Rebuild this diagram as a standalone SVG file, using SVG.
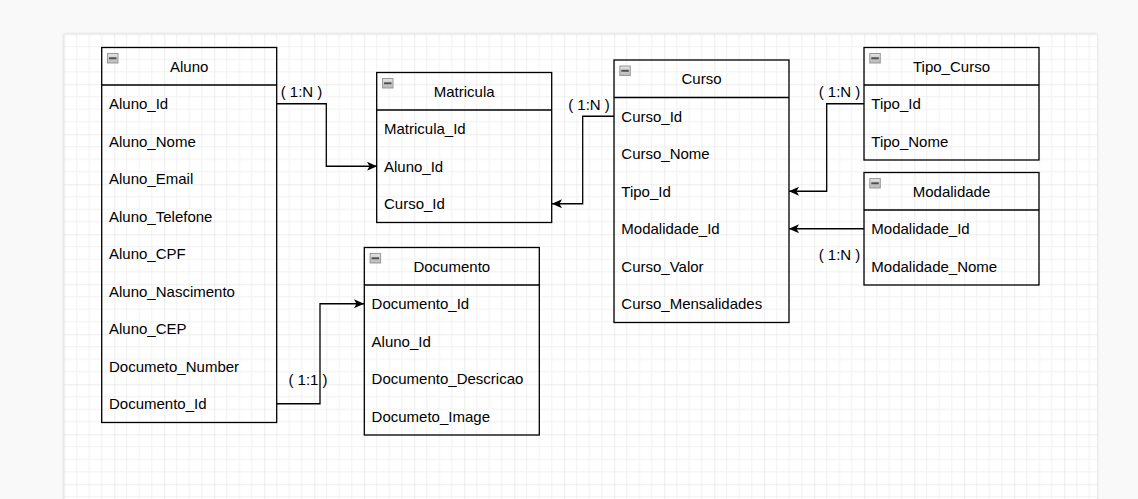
<svg xmlns="http://www.w3.org/2000/svg" width="1138" height="499" viewBox="0 0 1138 499">
  <defs>
    <pattern id="grid" x="64.3" y="34.3" width="50" height="50" patternUnits="userSpaceOnUse">
      <path d="M12.5 0V50M25 0V50M37.5 0V50M0 12.5H50M0 25H50M0 37.5H50" stroke="#f1f1f1" stroke-width="1" fill="none"/>
      <path d="M0 0V50M0 0H50" stroke="#dcdcdc" stroke-width="1" fill="none"/>
    </pattern>
    <linearGradient id="ig" x1="0" y1="0" x2="0" y2="1">
      <stop offset="0" stop-color="#e4e4e4"/>
      <stop offset="1" stop-color="#b8b8b8"/>
    </linearGradient>
    <filter id="shadow" x="-5%" y="-5%" width="110%" height="110%">
      <feGaussianBlur in="SourceAlpha" stdDeviation="1.5"/>
      <feComponentTransfer><feFuncA type="linear" slope="0.18"/></feComponentTransfer>
      <feMerge><feMergeNode/><feMergeNode in="SourceGraphic"/></feMerge>
    </filter>
    <marker id="arrow" viewBox="0 0 10 9" refX="10" refY="4.5" markerWidth="10" markerHeight="9" markerUnits="userSpaceOnUse" orient="auto">
      <path d="M0,0 L10,4.5 L0,9 L2.5,4.5 Z" fill="#000"/>
    </marker>
    <g id="icon">
      <rect x="0.5" y="0.5" width="10.5" height="9.5" fill="url(#ig)" stroke="#9a9a9a" stroke-width="1"/>
      <rect x="2" y="4.3" width="7.5" height="2" fill="#505050"/>
    </g>
  </defs>
  <style>
    .box { fill: none; stroke: #000; stroke-width: 1.3; }
    .sep { stroke: #000; stroke-width: 1.3; }
    .title { font-family: "Liberation Sans", Arial, sans-serif; font-size: 15px; fill: #000; text-anchor: middle; }
    .row { font-family: "Liberation Sans", Arial, sans-serif; font-size: 15px; fill: #000; }
    .lbl { font-family: "Liberation Sans", Arial, sans-serif; font-size: 15px; fill: #000; text-anchor: middle; }
    .edge { fill: none; stroke: #000; stroke-width: 1.3; }
  </style>

  <rect x="0" y="0" width="1138" height="499" fill="#f9f9f9"/>
  <rect x="64" y="34" width="1033" height="480" fill="#ffffff" filter="url(#shadow)"/>
  <rect x="64" y="34" width="1033" height="480" fill="url(#grid)"/>

  <g id="connectors">
    <path class="edge" d="M277,103.75 H326.3 V166.25 H377" marker-end="url(#arrow)"/>
    <path class="edge" d="M614,116.25 H582.7 V203.75 H552" marker-end="url(#arrow)"/>
    <path class="edge" d="M864,103.75 H826.7 V191.25 H789" marker-end="url(#arrow)"/>
    <path class="edge" d="M864,228.75 H789" marker-end="url(#arrow)"/>
    <path class="edge" d="M277,403.75 H320 V303.75 H364" marker-end="url(#arrow)"/>
    <text class="lbl" x="301.5" y="97">( 1:N )</text>
    <text class="lbl" x="589" y="109.5">( 1:N )</text>
    <text class="lbl" x="839.5" y="97">( 1:N )</text>
    <text class="lbl" x="839.5" y="259.5">( 1:N )</text>
    <text class="lbl" x="308" y="385">( 1:1 )</text>
  </g>

  <g id="aluno">
    <rect class="box" x="101.7" y="47.5" width="175" height="375"/>
    <line class="sep" x1="101.7" y1="85" x2="276.7" y2="85"/>
    <use href="#icon" x="107" y="53"/>
    <text class="title" x="189.2" y="71.5">Aluno</text>
    <text class="row" x="109" y="109">Aluno_Id</text>
    <text class="row" x="109" y="146.5">Aluno_Nome</text>
    <text class="row" x="109" y="184">Aluno_Email</text>
    <text class="row" x="109" y="221.5">Aluno_Telefone</text>
    <text class="row" x="109" y="259">Aluno_CPF</text>
    <text class="row" x="109" y="296.5">Aluno_Nascimento</text>
    <text class="row" x="109" y="334">Aluno_CEP</text>
    <text class="row" x="109" y="371.5">Documeto_Number</text>
    <text class="row" x="109" y="409">Documento_Id</text>
  </g>

  <g id="matricula">
    <rect class="box" x="376.7" y="72.5" width="175" height="150"/>
    <line class="sep" x1="376.7" y1="110" x2="551.7" y2="110"/>
    <use href="#icon" x="382" y="78"/>
    <text class="title" x="464.2" y="96.5">Matricula</text>
    <text class="row" x="384" y="134">Matricula_Id</text>
    <text class="row" x="384" y="171.5">Aluno_Id</text>
    <text class="row" x="384" y="209">Curso_Id</text>
  </g>

  <g id="curso">
    <rect class="box" x="614" y="60" width="175" height="262.5"/>
    <line class="sep" x1="614" y1="97.5" x2="789" y2="97.5"/>
    <use href="#icon" x="619.3" y="65.5"/>
    <text class="title" x="701.5" y="84">Curso</text>
    <text class="row" x="621.3" y="121.5">Curso_Id</text>
    <text class="row" x="621.3" y="159">Curso_Nome</text>
    <text class="row" x="621.3" y="196.5">Tipo_Id</text>
    <text class="row" x="621.3" y="234">Modalidade_Id</text>
    <text class="row" x="621.3" y="271.5">Curso_Valor</text>
    <text class="row" x="621.3" y="309">Curso_Mensalidades</text>
  </g>

  <g id="tipo_curso">
    <rect class="box" x="864" y="47.5" width="175" height="112.5"/>
    <line class="sep" x1="864" y1="85" x2="1039" y2="85"/>
    <use href="#icon" x="869.3" y="53"/>
    <text class="title" x="951.5" y="71.5">Tipo_Curso</text>
    <text class="row" x="871.3" y="109">Tipo_Id</text>
    <text class="row" x="871.3" y="146.5">Tipo_Nome</text>
  </g>

  <g id="modalidade">
    <rect class="box" x="864" y="172.5" width="175" height="112.5"/>
    <line class="sep" x1="864" y1="210" x2="1039" y2="210"/>
    <use href="#icon" x="869.3" y="178"/>
    <text class="title" x="951.5" y="196.5">Modalidade</text>
    <text class="row" x="871.3" y="234">Modalidade_Id</text>
    <text class="row" x="871.3" y="271.5">Modalidade_Nome</text>
  </g>

  <g id="documento">
    <rect class="box" x="364.3" y="247.5" width="175" height="187.5"/>
    <line class="sep" x1="364.3" y1="285" x2="539.3" y2="285"/>
    <use href="#icon" x="369.6" y="253"/>
    <text class="title" x="451.8" y="271.5">Documento</text>
    <text class="row" x="371.6" y="309">Documento_Id</text>
    <text class="row" x="371.6" y="346.5">Aluno_Id</text>
    <text class="row" x="371.6" y="384">Documento_Descricao</text>
    <text class="row" x="371.6" y="421.5">Documeto_Image</text>
  </g>
</svg>
